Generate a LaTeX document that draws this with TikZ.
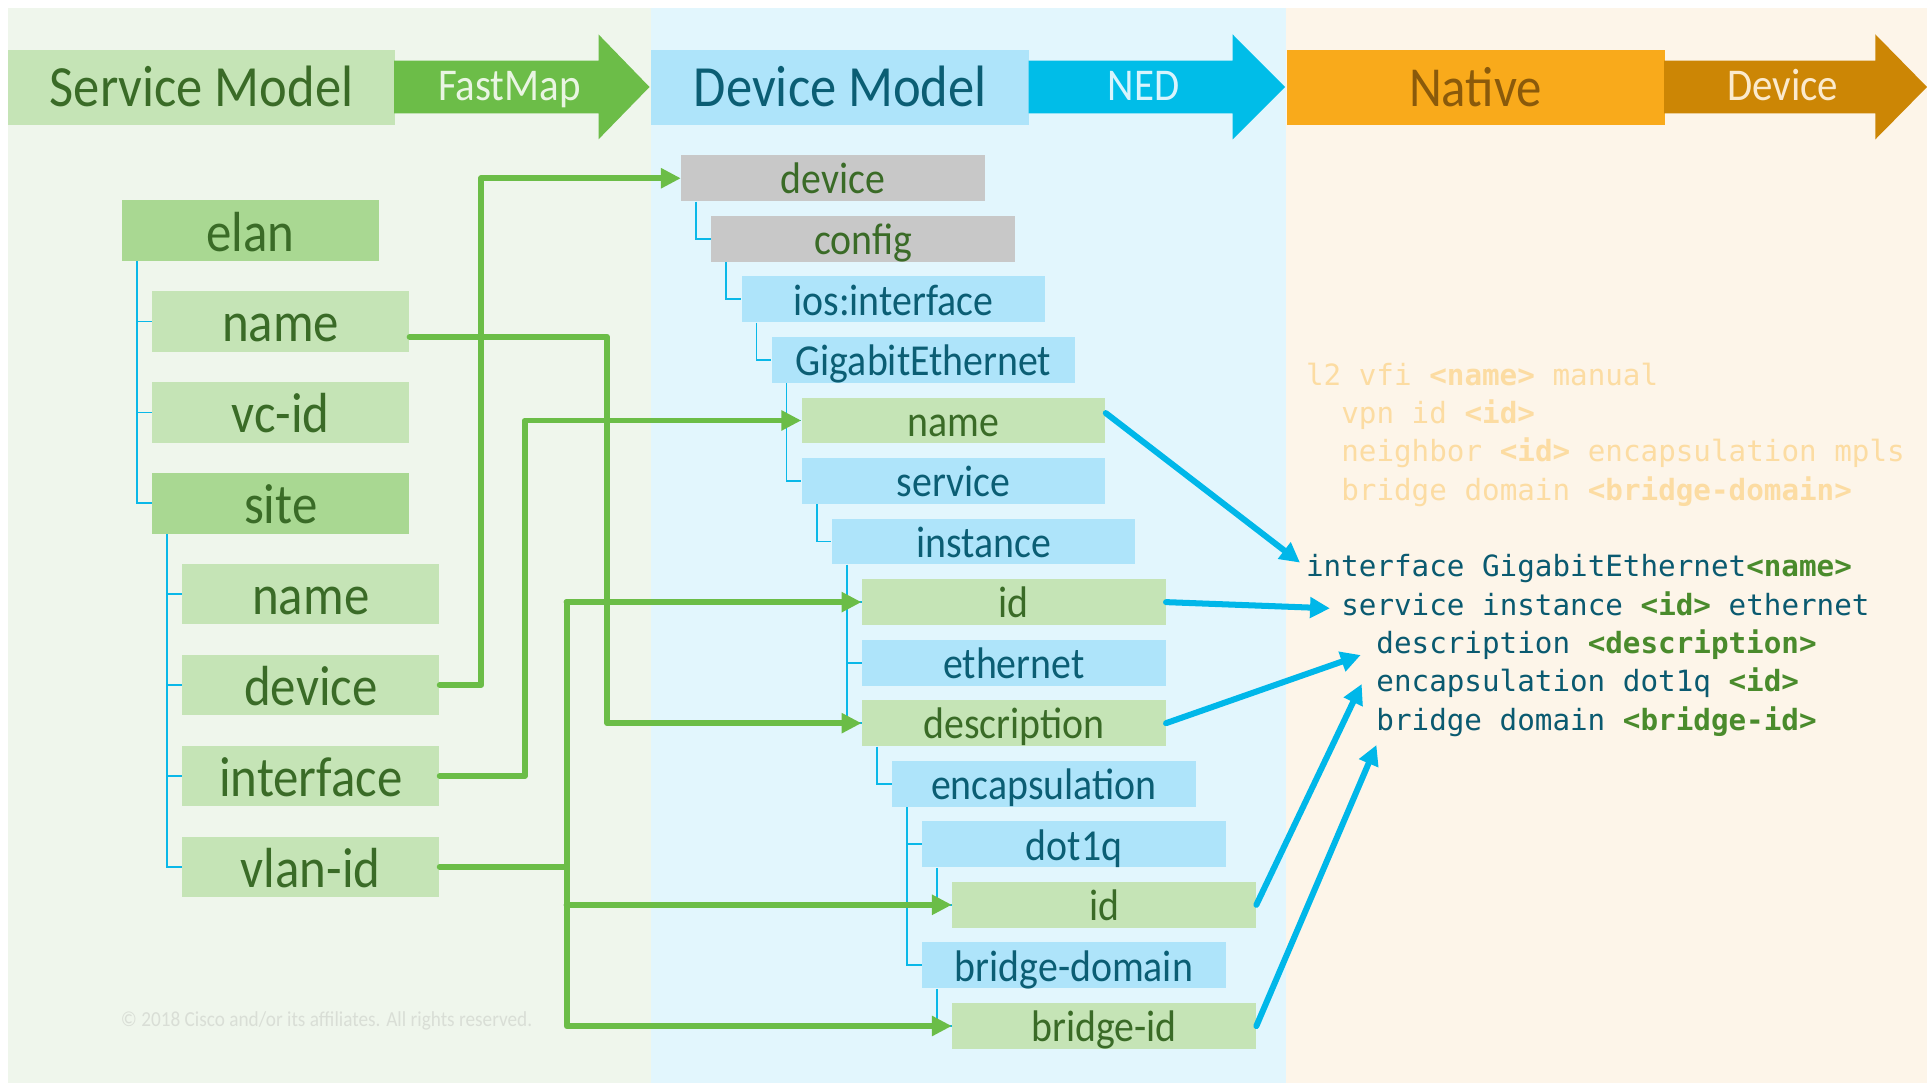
\documentclass[tikz,border=0pt]{standalone}
\usepackage{fontspec}
\setmainfont{Carlito}[FakeStretch=0.9]
\newfontfamily\codefont{DejaVu Sans Mono}
\usetikzlibrary{arrows.meta,calc}

\definecolor{pgreen}{HTML}{EFF6EC}
\definecolor{pblue}{HTML}{E2F6FD}
\definecolor{porange}{HTML}{FDF5E9}
\definecolor{lfill}{HTML}{C5E4B6}
\definecolor{lfilld}{HTML}{A9D892}
\definecolor{ltxt}{HTML}{3A6B27}
\definecolor{fmgreen}{HTML}{6CBD48}
\definecolor{fmtxt}{HTML}{E9F5E2}
\definecolor{bluefill}{HTML}{AEE4FA}
\definecolor{bluetxt}{HTML}{0B5E74}
\definecolor{nedblue}{HTML}{00BDE8}
\definecolor{nedtxt}{HTML}{D8F4FD}
\definecolor{natfill}{HTML}{F9AA1B}
\definecolor{nattxt}{HTML}{8A5A0B}
\definecolor{devarrow}{HTML}{CC8605}
\definecolor{devtxt}{HTML}{FBEACD}
\definecolor{grayfill}{HTML}{C8C8C8}
\definecolor{treeblue}{HTML}{0AB8E8}
\definecolor{connGreen}{HTML}{6BBD47}
\definecolor{connBlue}{HTML}{00B7E9}
\definecolor{codeteal}{HTML}{0A5A70}
\definecolor{codegreen}{HTML}{4A8B2C}
\definecolor{fadeor}{HTML}{FCDCA2}
\definecolor{copygray}{HTML}{D9DED6}

\newcommand\codearg[1]{\textcolor{codegreen}{\bfseries #1}}

\begin{document}
\begin{tikzpicture}[x=0.5pt,y=-0.5pt,
  hdr/.style={anchor=north west,inner sep=0pt,minimum height=30.75pt,text height=15.65pt,text depth=0pt,font=\fontsize{23.75}{26}\selectfont},
  arrowlbl/.style={inner sep=0pt,text height=10.6pt,text depth=0pt,font=\fontsize{18.5}{20}\selectfont},
  lbox/.style={anchor=north west,inner sep=0pt,minimum width=104.5pt,minimum height=24.6pt,text height=16.6pt,text depth=0pt,font=\fontsize{23}{25}\selectfont,text=ltxt,fill=lfill},
  lboxd/.style={lbox,fill=lfilld},
  dbox/.style={anchor=north west,inner sep=0pt,minimum width=123.5pt,minimum height=18.65pt,text height=12.8pt,text depth=0pt,font=\fontsize{18}{20}\selectfont},
  dgray/.style={dbox,fill=grayfill,text=ltxt},
  dblue/.style={dbox,fill=bluefill,text=bluetxt},
  dgreen/.style={dbox,fill=lfill,text=ltxt},
  tree/.style={draw=treeblue,line width=0.75pt},
  gline/.style={draw=connGreen,line width=2.4pt,line join=round,line cap=round},
  gconn/.style={gline,-{Triangle[length=8.1pt,width=7.8pt]}},
  bconn/.style={draw=connBlue,line width=2.45pt,line cap=round,-{Triangle[length=8.1pt,width=8.1pt]}},
  code/.style={anchor=base west,inner sep=0pt,font=\codefont\fontsize{11.9}{14}\selectfont},
]
\useasboundingbox (0,0) rectangle (1568,881);
\fill[white] (0,0) rectangle (1568,881);
% panels
\fill[pgreen] (6.5,6.5) rectangle (530,881);
\fill[pblue] (530,6.5) rectangle (1046,881);
\fill[porange] (1046,6.5) rectangle (1568,881);

% header boxes
\node[hdr,fill=lfill,text=ltxt,minimum width=157.1pt] (sm) at (6.5,40) {Service Model};
\node[hdr,fill=bluefill,text=bluetxt,minimum width=153.65pt] (dm) at (529.7,40) {Device Model};
\node[hdr,fill=natfill,text=nattxt,minimum width=153.75pt,font=\fontsize{23}{26}\selectfont] (nat) at (1046.5,40) {Native};

% header arrows
\fill[fmgreen] (320.7,49.4) -- (487,49.4) -- (487,28) -- (528.5,70.8) -- (487,113.4) -- (487,92.2) -- (320.7,92.2) -- cycle;
\fill[nedblue] (837,49.4) -- (1003,49.4) -- (1003,28) -- (1045.6,70.8) -- (1003,113.4) -- (1003,92.2) -- (837,92.2) -- cycle;
\fill[devarrow] (1354,49.4) -- (1526,49.4) -- (1526,28) -- (1568,70.8) -- (1526,113.4) -- (1526,92.2) -- (1354,92.2) -- cycle;
\node[arrowlbl,text=fmtxt] (fm) at (414.5,70.8) {FastMap};
\node[arrowlbl,text=nedtxt] (ned) at (930.5,70.8) {NED};
\node[arrowlbl,text=devtxt] (dev) at (1450.7,70.8) {Device};

% service model tree
\node[lboxd] (elan) at (99,162.7) {elan};
\node[lbox] (ename) at (123.5,236.65) {name};
\node[lbox] (evcid) at (123.5,310.6) {vc-id};
\node[lboxd] (site) at (123.5,384.55) {site};
\node[lbox] (sname) at (148,458.5) {name};
\node[lbox] (sdevice) at (148,532.45) {device};
\node[lbox] (sint) at (148,606.4) {interface};
\node[lbox] (svlan) at (148,680.35) {vlan-id};

\draw[tree] ([xshift=6.25pt]elan.south west) |- (ename.west);
\draw[tree] ([xshift=6.25pt]elan.south west) |- (evcid.west);
\draw[tree] ([xshift=6.25pt]elan.south west) |- (site.west);
\draw[tree] ([xshift=6.25pt]site.south west) |- (sname.west);
\draw[tree] ([xshift=6.25pt]site.south west) |- (sdevice.west);
\draw[tree] ([xshift=6.25pt]site.south west) |- (sint.west);
\draw[tree] ([xshift=6.25pt]site.south west) |- (svlan.west);

% device model tree
\node[dgray] (ddevice) at (554,126) {device};
\node[dgray] (dconfig) at (578.5,175.3) {config};
\node[dblue] (dios) at (603,224.5) {ios:interface};
\node[dblue] (dgig) at (627.5,273.8) {GigabitEthernet};
\node[dgreen] (dname) at (652,323.1) {name};
\node[dblue] (dservice) at (652,372.4) {service};
\node[dblue] (dinst) at (676.5,421.6) {instance};
\node[dgreen] (did) at (701,470.9) {id};
\node[dblue] (deth) at (701,520.2) {ethernet};
\node[dgreen] (ddesc) at (701,569.4) {description};
\node[dblue] (denc) at (725.5,618.7) {encapsulation};
\node[dblue] (ddot) at (750,668) {dot1q};
\node[dgreen] (did2) at (774.5,717.2) {id};
\node[dblue] (dbd) at (750,766.5) {bridge-domain};
\node[dgreen] (dbrid) at (774.5,815.8) {bridge-id};

\draw[tree] ([xshift=6.25pt]ddevice.south west) |- (dconfig.west);
\draw[tree] ([xshift=6.25pt]dconfig.south west) |- (dios.west);
\draw[tree] ([xshift=6.25pt]dios.south west) |- (dgig.west);
\draw[tree] ([xshift=6.25pt]dgig.south west) |- (dname.west);
\draw[tree] ([xshift=6.25pt]dgig.south west) |- (dservice.west);
\draw[tree] ([xshift=6.25pt]dservice.south west) |- (dinst.west);
\draw[tree] ([xshift=6.25pt]dinst.south west) |- (did.west);
\draw[tree] ([xshift=6.25pt]dinst.south west) |- (deth.west);
\draw[tree] ([xshift=6.25pt]dinst.south west) |- (ddesc.west);
\draw[tree] ([xshift=6.25pt]ddesc.south west) |- (denc.west);
\draw[tree] ([xshift=6.25pt]denc.south west) |- (ddot.west);
\draw[tree] ([xshift=6.25pt]denc.south west) |- (dbd.west);
\draw[tree] ([xshift=6.25pt]ddot.south west) |- (did2.west);
\draw[tree] ([xshift=6.25pt]dbd.south west) |- (dbrid.west);

% green mapping connectors
\coordinate (bdev) at (391.5,0);
\coordinate (bint) at (427,0);
\coordinate (bvlan) at (461,0);
\coordinate (bname) at (494,0);
\coordinate (enameout) at ($(ename.east)+(0,12.5)$);
\draw[gconn] (sdevice.east) -| (bdev |- ddevice.west) -- (ddevice.west);
\draw[gconn] (enameout) -| (bname |- ddesc.west) -- (ddesc.west);
\draw[gconn] (sint.east) -| (bint |- dname.west) -- (dname.west);
\draw[gline] (svlan.east) -- (bvlan |- svlan.east);
\draw[gconn] (bvlan |- did.west) |- (dbrid.west);
\draw[gconn] (bvlan |- did.west) -- (did.west);
\draw[gconn] (bvlan |- did2.west) -- (did2.west);

% native config text
\node[code,text=fadeor] (c1) at (1062.3,313.3) {l2 vfi \textbf{<name>} manual};
\node[code,text=fadeor] (c2) at (1091,344.5) {vpn id \textbf{<id>}};
\node[code,text=fadeor] (c3) at (1091,375.7) {neighbor \textbf{<id>} encapsulation mpls};
\node[code,text=fadeor] (c4) at (1091,406.9) {bridge domain \textbf{<bridge-domain>}};
\node[code,text=codeteal] (c5) at (1062.3,469.3) {interface GigabitEthernet\codearg{<name>}};
\node[code,text=codeteal] (c6) at (1091,500.5) {service instance \codearg{<id>} ethernet};
\node[code,text=codeteal] (c7) at (1119.6,531.7) {description \codearg{<description>}};
\node[code,text=codeteal] (c8) at (1119.6,562.9) {encapsulation dot1q \codearg{<id>}};
\node[code,text=codeteal] (c9) at (1119.6,594.1) {bridge domain \codearg{<bridge-id>}};

% blue arrows to native config
\coordinate (tIf) at (1057.8,457.8);
\coordinate (tSvc) at (1082.2,495);
\coordinate (tDesc) at (1107.2,533);
\coordinate (tEnc) at (1108,556.6);
\coordinate (tBr) at (1120,606.2);
\draw[bconn] ($(dname.east)+(0,-6)$) -- (tIf);
\draw[bconn] (did.east) -- (tSvc);
\draw[bconn] (ddesc.east) -- (tDesc);
\draw[bconn] (did2.east) -- (tEnc);
\draw[bconn] (dbrid.east) -- (tBr);

% copyright
\node[anchor=base west,inner sep=0pt,text=copygray,font=\fontsize{8.7}{10}\selectfont] (copy) at (98,835.4) {\textcopyright{} 2018 Cisco and/or its affiliates. All rights reserved.};
\end{tikzpicture}
\end{document}
